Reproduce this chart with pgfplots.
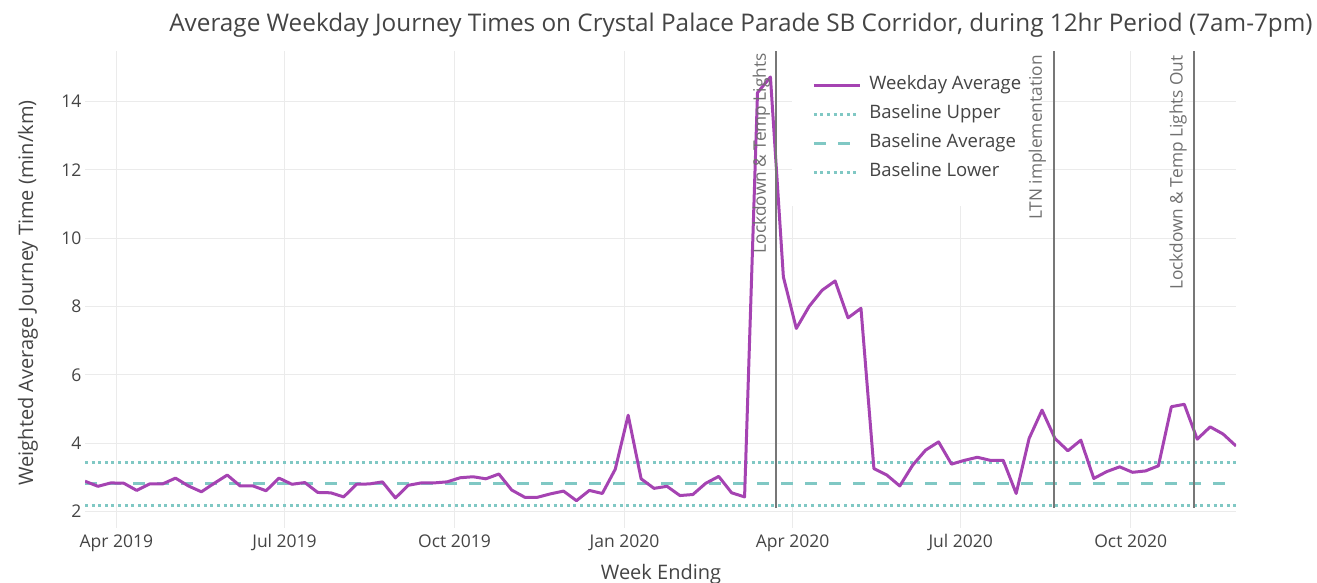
\documentclass[border=0pt]{standalone}
\usepackage{fontspec}
\setmainfont{Open Sans}
\usepackage{pgfplots}
\pgfplotsset{compat=1.18}
\definecolor{txt}{HTML}{444444}
\definecolor{purp}{HTML}{A543B2}
\definecolor{tealc}{HTML}{80C8C4}
\definecolor{gridc}{HTML}{EBEBEB}
\definecolor{vline}{HTML}{777777}
\definecolor{anno}{HTML}{707070}

\pgfplotstableread{
d v
-17 2.89
-10 2.74
-3 2.84
4 2.83
11 2.62
18 2.81
25 2.81
32 2.98
39 2.75
46 2.58
53 2.83
60 3.07
67 2.75
74 2.75
81 2.61
88 2.98
95 2.80
102 2.85
109 2.56
116 2.55
123 2.43
130 2.80
137 2.81
144 2.87
151 2.40
158 2.77
165 2.84
172 2.84
179 2.87
186 2.99
193 3.02
200 2.96
207 3.10
214 2.63
221 2.42
228 2.42
235 2.52
242 2.60
249 2.32
256 2.62
263 2.53
270 3.24
277 4.82
284 2.96
291 2.68
298 2.74
305 2.47
312 2.50
319 2.83
326 3.03
333 2.55
340 2.43
347 14.26
354 14.72
361 8.87
368 7.36
375 8.01
382 8.48
389 8.75
396 7.67
403 7.95
410 3.26
417 3.07
424 2.75
431 3.36
438 3.80
445 4.04
452 3.39
459 3.50
466 3.59
473 3.50
480 3.50
487 2.53
494 4.14
501 4.97
508 4.14
515 3.78
522 4.09
529 2.97
536 3.17
543 3.31
550 3.15
557 3.19
564 3.34
571 5.07
578 5.14
585 4.12
592 4.48
599 4.27
606 3.92
}\weekly

\begin{document}
\begin{tikzpicture}
\useasboundingbox (0pt,0pt) rectangle (1317pt,582pt);
\begin{axis}[
  at={(85pt,54pt)}, anchor=south west, scale only axis,
  width=1151pt, height=477pt,
  xmin=-17, xmax=606, ymin=1.52, ymax=15.48,
  axis line style={draw=none}, tick style={draw=none},
  grid=major, grid style={gridc, line width=1pt},
  xtick={0,91,183,275,366,457,549},
  xticklabels={Apr 2019, Jul 2019, Oct 2019, Jan 2020, Apr 2020, Jul 2020, Oct 2020},
  ytick={2,4,6,8,10,12,14},
  /pgf/number format/assume math mode=true,
  tick label style={font=\fontsize{17.5}{20}\selectfont, text=txt},
  xticklabel style={yshift=-3pt},
  yticklabel style={xshift=0pt},
  legend image code/.code={\draw[#1] (0pt,0pt) -- (46pt,0pt);},
  legend style={at={(rel axis cs:0.6143,1)}, anchor=north west, fill=white, draw=none,
    inner xsep=20pt, inner ysep=26pt, row sep=13pt, column sep=8pt,
    font=\fontsize{18.5}{21}\selectfont, text=txt,
    nodes={inner sep=0pt, text height=12pt, text depth=4pt, anchor=west}},
  legend cell align=left,
]
\addlegendimage{purp, line width=3pt}
\addlegendentry{Weekday Average}
\addlegendimage{tealc, line width=3pt, dash pattern=on 3pt off 3.6pt}
\addlegendentry{Baseline Upper}
\addlegendimage{tealc, line width=3pt, dash pattern=on 12pt off 12pt}
\addlegendentry{Baseline Average}
\addlegendimage{tealc, line width=3pt, dash pattern=on 3pt off 3.6pt}
\addlegendentry{Baseline Lower}

\addplot[tealc, line width=3pt, dash pattern=on 3pt off 3.6pt, forget plot] coordinates {(-17,3.45) (606,3.45)};
\addplot[tealc, line width=3pt, dash pattern=on 12pt off 12pt, forget plot] coordinates {(-17,2.83) (606,2.83)};
\addplot[tealc, line width=3pt, dash pattern=on 3pt off 3.6pt, forget plot] coordinates {(-17,2.19) (606,2.19)};
\addplot[purp, line width=3pt, line join=round, forget plot] table[x=d, y=v] {\weekly};

\addplot[vline, line width=1.8pt, forget plot] coordinates {(357,2.105) (357,15.48)};
\addplot[vline, line width=1.8pt, forget plot] coordinates {(507.6,2.105) (507.6,15.48)};
\addplot[vline, line width=1.8pt, forget plot] coordinates {(583.3,2.105) (583.3,15.48)};
\end{axis}
\node[rotate=90, anchor=south east, inner sep=0pt, text=anno, font=\fontsize{17.3}{20}\selectfont] at (770.1pt,529pt) {Lockdown \& Temp Lights};
\node[rotate=90, anchor=south east, inner sep=0pt, text=anno, font=\fontsize{17.3}{20}\selectfont] at (1046.1pt,526.9pt) {LTN implementation};
\node[rotate=90, anchor=south east, inner sep=0pt, text=anno, font=\fontsize{17.3}{20}\selectfont] at (1187pt,526.9pt) {Lockdown \& Temp Lights Out};
\node[text=txt, font=\fontsize{24.3}{28}\selectfont] at (741pt,557pt) {Average Weekday Journey Times on Crystal Palace Parade SB Corridor, during 12hr Period (7am-7pm)};
\node[text=txt, rotate=90, font=\fontsize{20}{23}\selectfont] at (28pt,289pt) {Weighted Average Journey Time (min/km)};
\node[text=txt, anchor=base, font=\fontsize{20}{23}\selectfont] at (661pt,3pt) {Week Ending};
\end{tikzpicture}
\end{document}
